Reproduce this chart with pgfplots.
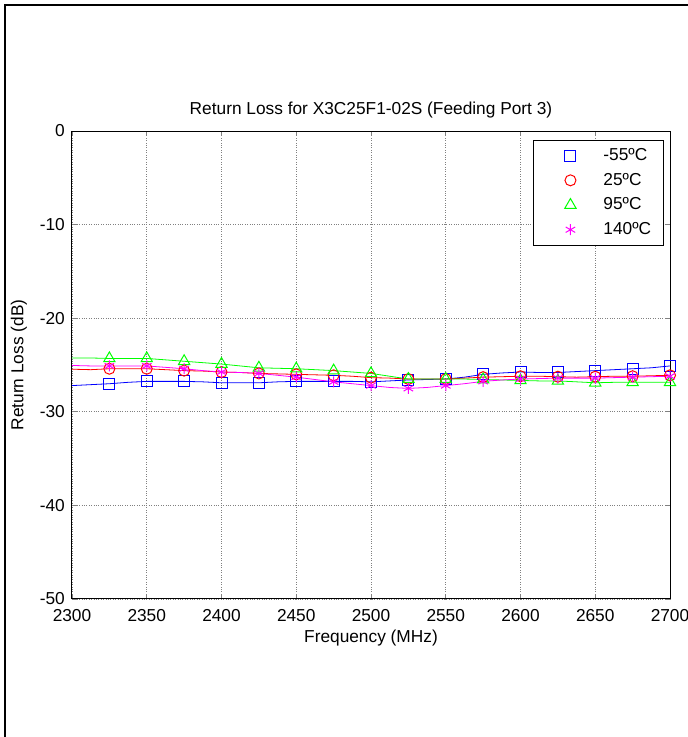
\documentclass[border=0pt]{standalone}
\usepackage{pgfplots}
\pgfplotsset{compat=1.18}
\usepackage{pgfplotstable}
\usepackage{fontspec}
\setmainfont{Liberation Sans}

% return loss vs frequency, four temperatures
\pgfplotstableread{
f       m55     p25     p95     p140
2300    -27.20  -25.45  -24.25  -25.05
2312.5  -27.10  -25.50  -24.25  -25.10
2325    -27.00  -25.40  -24.30  -25.10
2337.5  -26.85  -25.40  -24.30  -25.10
2350    -26.75  -25.40  -24.30  -25.10
2362.5  -26.75  -25.50  -24.45  -25.25
2375    -26.75  -25.60  -24.60  -25.40
2387.5  -26.80  -25.65  -24.75  -25.60
2400    -26.90  -25.75  -24.90  -25.75
2412.5  -26.90  -25.80  -25.10  -25.80
2425    -26.90  -25.90  -25.30  -25.90
2437.5  -26.80  -25.95  -25.35  -26.10
2450    -26.75  -26.00  -25.40  -26.30
2462.5  -26.75  -26.05  -25.50  -26.55
2475    -26.75  -26.10  -25.60  -26.80
2487.5  -26.75  -26.20  -25.75  -27.00
2500    -26.80  -26.35  -25.90  -27.20
2512.5  -26.70  -26.40  -26.20  -27.40
2525    -26.60  -26.50  -26.50  -27.50
2537.5  -26.55  -26.50  -26.50  -27.40
2550    -26.50  -26.50  -26.50  -27.20
2562.5  -26.30  -26.40  -26.50  -27.00
2575    -26.00  -26.30  -26.55  -26.75
2587.5  -25.85  -26.25  -26.60  -26.60
2600    -25.75  -26.20  -26.65  -26.50
2612.5  -25.80  -26.20  -26.70  -26.45
2625    -25.80  -26.25  -26.70  -26.40
2637.5  -25.70  -26.30  -26.80  -26.40
2650    -25.60  -26.25  -26.90  -26.40
2662.5  -25.50  -26.20  -26.85  -26.35
2675    -25.40  -26.20  -26.85  -26.30
2687.5  -25.30  -26.15  -26.85  -26.25
2700    -25.10  -26.10  -26.85  -26.20
}\rldata

\definecolor{mred}{RGB}{255,0,0}
\definecolor{mgreen}{RGB}{0,255,0}
\definecolor{mmag}{RGB}{255,0,255}

% open square that always strokes in blue
\pgfdeclareplotmark{bsq}{%
  \pgfsetstrokecolor{blue}%
  \pgfpathrectangle{\pgfqpoint{-\pgfplotmarksize}{-\pgfplotmarksize}}%
                   {\pgfqpoint{2\pgfplotmarksize}{2\pgfplotmarksize}}%
  \pgfusepathqstroke}

\begin{document}
\fontsize{17.3}{20}\selectfont
\begin{tikzpicture}
\begin{axis}[
    at={(72pt,138pt)}, anchor=south west,
    scale only axis,
    width=598pt, height=468pt,
    xmin=2300, xmax=2700,
    ymin=-50, ymax=0,
    xtick={2300,2350,...,2700},
    ytick={-50,-40,...,0},
    tick align=inside,
    major tick length=5pt,
    xtick pos=both, ytick pos=both,
    grid=major,
    major grid style={black!50, dotted, line width=0.8pt},
    axis line style={line width=1pt},
    tick style={line width=0.6pt},
    /pgf/number format/assume math mode=true,
    /pgf/number format/1000 sep={},
    font=\fontsize{17.3}{20}\selectfont,
    xticklabel style={anchor=center, yshift=-17pt, inner sep=0pt},
    yticklabel style={anchor=east, xshift=-7pt, inner sep=0pt},
    title={Return Loss for X3C25F1-02S (Feeding Port 3)},
    title style={at={(axis description cs:0.5,1)}, anchor=center, yshift=15pt},
    xlabel={Frequency (MHz)},
    ylabel={Return Loss (dB)},
    every axis x label/.style={at={(axis description cs:0.5,0)}, anchor=center, yshift=-39pt},
    every axis y label/.style={at={(axis description cs:-0.0886,0.5)}, anchor=center, rotate=90},
    legend style={at={(axis description cs:0.771,0.981)}, anchor=north west,
        draw=black, line width=0.8pt, fill=white, inner xsep=10pt, inner ysep=6pt,
        row sep=6pt, cells={anchor=west}},
    legend image code/.code={%
        \path[draw=none, fill=none] (0pt,-6pt) rectangle (58pt,6pt);
        \draw[#1,mark repeat=1,mark phase=1,only marks] plot coordinates {(27pt,0pt)};},
]
\addplot[color=blue, line width=0.8pt, mark=bsq, mark size=5.5pt, mark repeat=2, mark phase=3,
    mark options={solid, line width=1pt}] table[x=f, y=m55] {\rldata};
\addplot[color=mred, line width=0.8pt, mark=o, mark size=5.5pt, mark repeat=2, mark phase=3,
    mark options={solid, line width=1pt}] table[x=f, y=p25] {\rldata};
\addplot[color=mgreen, line width=0.8pt, mark=triangle, mark size=6.5pt, mark repeat=2, mark phase=3,
    mark options={solid, line width=1pt}] table[x=f, y=p95] {\rldata};
\addplot[color=mmag, line width=0.8pt, mark=asterisk, mark size=5.5pt, mark repeat=2, mark phase=3,
    mark options={solid, line width=1pt}] table[x=f, y=p140] {\rldata};
\legend{-55ºC, 25ºC, 95ºC, 140ºC}
\end{axis}
% figure frame
\draw[line width=2pt] (5pt,0pt) -- (5pt,732pt) -- (688pt,732pt);
\pgfresetboundingbox
\useasboundingbox (0pt,0pt) rectangle (688pt,737pt);
\end{tikzpicture}
\end{document}
